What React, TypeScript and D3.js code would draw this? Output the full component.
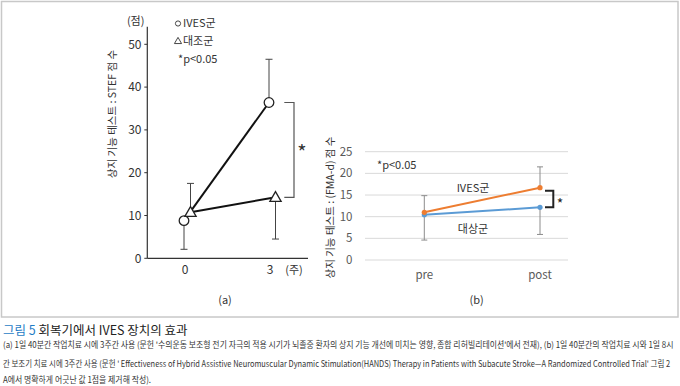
import React, { useLayoutEffect, useRef } from "react";
import * as d3 from "d3";

// (a) STEF score, weeks 0 and 3
const weeks = [0, 3];
const ivesA = [8.8, 36.4];
const ivesAErr = [2.1, 46.5]; // error bar end (one-sided)
const ctrlA = [10.75, 14.25];
const ctrlAErr = [17.5, 4.5];
const yTicksA = [0, 10, 20, 30, 40, 50];

// (b) FMA-d score, pre / post
const phases = ["pre", "post"];
const ivesB = [11.0, 16.7];
const ivesBErr = [14.85, 21.5];
const ctrlB = [10.45, 12.15];
const ctrlBErr = [4.6, 5.9];
const yTicksB = [0, 5, 10, 15, 20, 25];

const captionLines = [
  "(a) 1일 40분간 작업치료 시에 3주간 사용 (문헌 '수의운동 보조형 전기 자극의 적용 시기가 뇌졸중 환자의 상지 기능 개선에 미치는 영향, 종합 리허빌리테이션'에서 전재), (b) 1일 40분간의 작업치료 시와 1일 8시",
  "간 보조기 치료 시에 3주간 사용 (문헌 ' Effectiveness of Hybrid Assistive Neuromuscular Dynamic Stimulation(HANDS) Therapy in Patients with Subacute Stroke—A Randomized Controlled Trial' 그림 2",
  "A에서 명확하게 어긋난 값 1점을 제거해 작성).",
];
const captionWidths = [670, 668, 148];

const FONT = "'Noto Sans CJK KR', 'Noto Sans', sans-serif";
const ORANGE = "#ed7d31";
const BLUE = "#5b9bd5";

const App: React.FC = () => {
  const width = 680;
  const height = 386;
  const capRef = useRef<SVGGElement>(null);

  // squeeze caption lines horizontally to the widths seen in the picture
  useLayoutEffect(() => {
    if (!capRef.current) return;
    d3.select(capRef.current).selectAll<SVGTextElement, unknown>("text").each(function (_, i) {
      const len = this.getComputedTextLength();
      const sx = len > 0 ? captionWidths[i] / len : 1;
      d3.select(this).attr("transform", `translate(3,0) scale(${sx},1)`);
    });
  }, []);

  // chart (a)
  const yA = d3.scaleLinear().domain([0, 50]).range([258.3, 44.3]);
  const xA = d3.scaleLinear().domain([0, 3]).range([185, 270]);
  const circX = (w: number) => xA(w) - 1;
  const triX = (w: number) => xA(w) + 5.5;
  const axisAx = 147.3;
  const lineA = d3.line<[number, number]>().x(d => d[0]).y(d => d[1]);
  const ivesPts: [number, number][] = weeks.map((w, i) => [circX(w), yA(ivesA[i])]);
  const ctrlPts: [number, number][] = weeks.map((w, i) => [triX(w), yA(ctrlA[i])]);
  const tri = d3.symbol().type(d3.symbolTriangle).size(55)() as string;

  // chart (b)
  const yB = d3.scaleLinear().domain([0, 25]).range([260, 151.7]);
  const xB = d3.scalePoint<string>().domain(phases).range([424.3, 540]);
  const lineB = d3.line<number>().x((_, i) => xB(phases[i]) as number).y(d => yB(d));

  const yLabelA = "상지 기능 테스트 : STEF 점 수";
  const yLabelB = "상지 기능 테스트 : (FMA-d) 점 수";

  return (
    <svg width={width} height={height} style={{ position: "absolute", left: 0, top: 0, background: "#fff" }} fontFamily={FONT}>
      <rect x={1.5} y={1.5} width={676.5} height={315.5} fill="none" stroke="#c8c8c8" strokeWidth={1.5} />

      {/* ---------- (a) ---------- */}
      <text x={135.7} y={25} fontSize={11} fill="#333" textAnchor="middle">(점)</text>
      <line x1={axisAx} x2={axisAx} y1={26.7} y2={yA(0)} stroke="#333" strokeWidth={1.2} />
      <line x1={axisAx} x2={308} y1={yA(0)} y2={yA(0)} stroke="#333" strokeWidth={1.2} />
      {yTicksA.map(t => (
        <g key={t}>
          <line x1={axisAx - 3} x2={axisAx} y1={yA(t)} y2={yA(t)} stroke="#333" />
          <text x={141.5} y={yA(t)} dy="0.36em" fontSize={12} fill="#333" textAnchor="end">{t}</text>
        </g>
      ))}
      {weeks.map(w => (
        <text key={w} x={xA(w)} y={273.5} fontSize={12} fill="#333" textAnchor="middle">{w}</text>
      ))}
      <text x={294} y={273.5} fontSize={11} fill="#333" textAnchor="middle">(주)</text>
      <text transform={`translate(112,114) rotate(-90)`} fontSize={10.5} fill="#333" textAnchor="middle" dy="0.35em">{yLabelA}</text>

      {/* error bars */}
      {weeks.map((w, i) => (
        <g key={"ea" + w} stroke="#444" strokeWidth={1}>
          <line x1={circX(w)} x2={circX(w)} y1={yA(ivesA[i])} y2={yA(ivesAErr[i])} />
          <line x1={circX(w) - 3.5} x2={circX(w) + 3.5} y1={yA(ivesAErr[i])} y2={yA(ivesAErr[i])} />
          <line x1={triX(w)} x2={triX(w)} y1={yA(ctrlA[i])} y2={yA(ctrlAErr[i])} />
          <line x1={triX(w) - 3.5} x2={triX(w) + 3.5} y1={yA(ctrlAErr[i])} y2={yA(ctrlAErr[i])} />
        </g>
      ))}
      <path d={lineA(ivesPts) as string} fill="none" stroke="#111" strokeWidth={2} />
      <path d={lineA(ctrlPts) as string} fill="none" stroke="#111" strokeWidth={2} />
      {ivesPts.map((p, i) => (
        <circle key={"c" + i} cx={p[0]} cy={p[1]} r={4.8} fill="#fff" stroke="#222" strokeWidth={1.3} />
      ))}
      {ctrlPts.map((p, i) => (
        <path key={"t" + i} d={tri} transform={`translate(${p[0]},${p[1] + 0.8})`} fill="#fff" stroke="#222" strokeWidth={1.3} />
      ))}
      {/* significance bracket */}
      <path
        d={`M284.3,${yA(ivesA[1])}H294V${yA(ctrlA[1])}H284.3`}
        fill="none" stroke="#555" strokeWidth={1.2}
      />
      <text x={302} y={160} fontSize={20} fill="#333" textAnchor="middle">*</text>

      {/* legend */}
      <circle cx={178} cy={23.5} r={2.6} fill="none" stroke="#333" strokeWidth={0.9} />
      <text x={183} y={23.5} dy="0.35em" fontSize={11} fill="#333">IVES군</text>
      <path d={d3.symbol().type(d3.symbolTriangle).size(22)() as string} transform="translate(178,41.5)" fill="none" stroke="#333" strokeWidth={0.9} />
      <text x={183} y={41.5} dy="0.35em" fontSize={11} fill="#333">대조군</text>
      <text x={178} y={59} dy="0.35em" fontSize={11} fill="#333">*p&lt;0.05</text>
      <text x={225} y={300} dy="0.35em" fontSize={11} fill="#333" textAnchor="middle">(a)</text>

      {/* ---------- (b) ---------- */}
      {yTicksB.map(t => (
        <g key={t}>
          <line x1={365} x2={568} y1={yB(t)} y2={yB(t)} stroke="#d9d9d9" strokeWidth={1} />
          <text x={352.5} y={yB(t)} dy="0.35em" fontSize={11.5} fill="#595959" textAnchor="end">{t}</text>
        </g>
      ))}
      {phases.map(p => (
        <text key={p} x={xB(p)} y={275} dy="0.35em" fontSize={11.5} fill="#595959" textAnchor="middle">{p}</text>
      ))}
      <text transform={`translate(330,207.5) rotate(-90)`} fontSize={10.5} fill="#333" textAnchor="middle" dy="0.35em">{yLabelB}</text>
      <text x={377} y={165} dy="0.35em" fontSize={11} fill="#333">*p&lt;0.05</text>

      {phases.map((p, i) => {
        const x = xB(p) as number;
        return (
          <g key={"eb" + p} stroke="#8c8c8c" strokeWidth={1}>
            <line x1={x} x2={x} y1={yB(ivesB[i])} y2={yB(ivesBErr[i])} />
            <line x1={x - 3} x2={x + 3} y1={yB(ivesBErr[i])} y2={yB(ivesBErr[i])} />
            <line x1={x} x2={x} y1={yB(ctrlB[i])} y2={yB(ctrlBErr[i])} />
            <line x1={x - 3} x2={x + 3} y1={yB(ctrlBErr[i])} y2={yB(ctrlBErr[i])} />
          </g>
        );
      })}
      <path d={lineB(ctrlB) as string} fill="none" stroke={BLUE} strokeWidth={2} />
      <path d={lineB(ivesB) as string} fill="none" stroke={ORANGE} strokeWidth={2} />
      {ctrlB.map((v, i) => (
        <circle key={"bb" + i} cx={xB(phases[i])} cy={yB(v)} r={2.6} fill={BLUE} />
      ))}
      {ivesB.map((v, i) => (
        <circle key={"bo" + i} cx={xB(phases[i])} cy={yB(v)} r={2.6} fill={ORANGE} />
      ))}
      <text x={473} y={188} dy="0.35em" fontSize={11} fill="#333" textAnchor="middle">IVES군</text>
      <text x={473} y={229} dy="0.35em" fontSize={11} fill="#333" textAnchor="middle">대상군</text>
      <path
        d={`M545,${yB(ivesB[1]) + 3}H553.3V${yB(ctrlB[1])}H545`}
        fill="none" stroke="#222" strokeWidth={2}
      />
      <text x={560} y={209} fontSize={14} fill="#222" textAnchor="middle">*</text>
      <text x={476.7} y={300} dy="0.35em" fontSize={11} fill="#333" textAnchor="middle">(b)</text>

      {/* ---------- caption ---------- */}
      <text x={3} y={331} dy="0.35em" fontSize={12.5}>
        <tspan fill="#1f7cc5">그림 5 </tspan>
        <tspan fill="#222">회복기에서 IVES 장치의 효과</tspan>
      </text>
      <g ref={capRef}>
        {captionLines.map((s, i) => (
          <text key={i} x={0} y={[345.3, 363.5, 379.5][i]} dy="0.35em" fontSize={8.6} fill="#333"
            transform="translate(3,0)">{s}</text>
        ))}
      </g>
    </svg>
  );
};

export default App;
